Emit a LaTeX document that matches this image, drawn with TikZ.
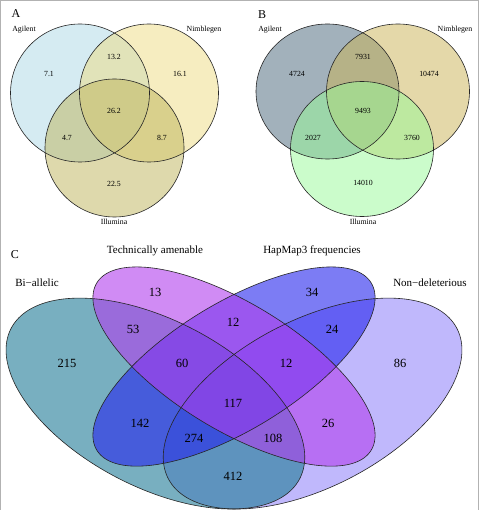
\documentclass[tikz,border=0pt]{standalone}
\usepackage{fontspec}
\setmainfont{Liberation Serif}
\definecolor{aAg}{RGB}{173,216,230}
\definecolor{aNi}{RGB}{238,221,130}
\definecolor{aIl}{RGB}{190,180,90}
\definecolor{bAg}{RGB}{70,100,120}
\definecolor{bNi}{RGB}{203,179,85}
\definecolor{bIl}{RGB}{152,251,152}
\definecolor{cBi}{RGB}{30,123,150}
\definecolor{cTe}{RGB}{177,63,237}
\definecolor{cHa}{RGB}{37,37,237}
\definecolor{cNo}{RGB}{150,137,250}
\newcommand{\quadell}[6]{%
  \path[#6] plot[domain=0:360, samples=181, variable=\t]
   ({#1+#3*cos(\t)*cos(#5)-#4*sin(\t)*sin(#5)},
    {#2+#3*cos(\t)*sin(#5)+#4*sin(\t)*cos(#5)}) -- cycle;}
\begin{document}
\begin{tikzpicture}[x=1pt,y=-1pt,
  lab/.style={font=\fontsize{7.8}{9}\selectfont, inner sep=0pt},
  clab/.style={font=\fontsize{11}{13}\selectfont, inner sep=0pt},
  cnum/.style={font=\fontsize{12.5}{14}\selectfont, inner sep=0pt},
  plet/.style={font=\fontsize{12}{14}\selectfont, inner sep=0pt},
  vline/.style={draw=black!85, line width=0.6pt},
  frame/.style={draw=gray!60, line width=1pt}]
\useasboundingbox (0,0) rectangle (480,510);
\fill[white] (0,0) rectangle (480,510);
\draw[frame] (0.5,512) -- (0.5,1) -- (478,1) -- (478,512);

% ---------- Panel A ----------
\fill[aAg, fill opacity=0.5] (80,93) ellipse [x radius=69.5pt, y radius=69pt];
\fill[aNi, fill opacity=0.5] (149,93) ellipse [x radius=69.5pt, y radius=69pt];
\fill[aIl, fill opacity=0.5] (114.5,148) ellipse [x radius=69.5pt, y radius=69pt];
\draw[vline] (80,93) ellipse [x radius=69.5pt, y radius=69pt];
\draw[vline] (149,93) ellipse [x radius=69.5pt, y radius=69pt];
\draw[vline] (114.5,148) ellipse [x radius=69.5pt, y radius=69pt];
\node[plet] (pA) at (16,14) {A};
\node[lab] (aAgl) at (24,30) {Agilent};
\node[lab] (aNil) at (204,30) {Nimblegen};
\node[lab] (aIll) at (114,222) {Illumina};
\node[lab] (a1) at (49,74) {7.1};
\node[lab] (a2) at (114,57) {13.2};
\node[lab] (a3) at (180,74) {16.1};
\node[lab] (a4) at (114,111) {26.2};
\node[lab] (a5) at (67,138) {4.7};
\node[lab] (a6) at (162,138) {8.7};
\node[lab] (a7) at (114,184) {22.5};

% ---------- Panel B ----------
\fill[bAg, fill opacity=0.5] (327.5,91.5) ellipse [x radius=71.5pt, y radius=67.5pt];
\fill[bNi, fill opacity=0.5] (398,91.5) ellipse [x radius=71.5pt, y radius=67.5pt];
\fill[bIl, fill opacity=0.5] (362,149) ellipse [x radius=71.5pt, y radius=67.5pt];
\draw[vline] (327.5,91.5) ellipse [x radius=71.5pt, y radius=67.5pt];
\draw[vline] (398,91.5) ellipse [x radius=71.5pt, y radius=67.5pt];
\draw[vline] (362,149) ellipse [x radius=71.5pt, y radius=67.5pt];
\node[plet] (pB) at (262,15) {B};
\node[lab] (bAgl) at (270,30) {Agilent};
\node[lab] (bNil) at (455,30) {Nimblegen};
\node[lab] (bIll) at (363,222) {Illumina};
\node[lab] (b1) at (297,74) {4724};
\node[lab] (b2) at (363,57) {7931};
\node[lab] (b3) at (429,74) {10474};
\node[lab] (b4) at (363,111) {9493};
\node[lab] (b5) at (313,138) {2027};
\node[lab] (b6) at (412,138) {3760};
\node[lab] (b7) at (363,183) {14010};

% ---------- Panel C ----------
\begin{scope}[shift={(-28,577.45)}, x=524pt, y=370pt]
  \quadell{0.65}{0.47}{0.35}{0.20}{45}{fill=cNo, fill opacity=0.6}
  \quadell{0.35}{0.47}{0.35}{0.20}{135}{fill=cBi, fill opacity=0.6}
  \quadell{0.50}{0.57}{0.35}{0.15}{45}{fill=cHa, fill opacity=0.6}
  \quadell{0.50}{0.57}{0.35}{0.15}{135}{fill=cTe, fill opacity=0.6}
  \quadell{0.65}{0.47}{0.35}{0.20}{45}{vline}
  \quadell{0.35}{0.47}{0.35}{0.20}{135}{vline}
  \quadell{0.50}{0.57}{0.35}{0.15}{45}{vline}
  \quadell{0.50}{0.57}{0.35}{0.15}{135}{vline}
\end{scope}
\node[plet] (pC) at (15,255) {C};
\node[clab] (cTel) at (155,251) {Technically amenable};
\node[clab] (cHal) at (312,251) {HapMap3 frequencies};
\node[clab] (cBil) at (37,283) {Bi−allelic};
\node[clab] (cNol) at (430,283) {Non−deleterious};
\node[cnum] (c13) at (155,292) {13};
\node[cnum] (c34) at (312,292) {34};
\node[cnum] (c53) at (133,329) {53};
\node[cnum] (c12a) at (233,322) {12};
\node[cnum] (c24) at (332,329) {24};
\node[cnum] (c215) at (67,363) {215};
\node[cnum] (c60) at (182,363) {60};
\node[cnum] (c12b) at (286,363) {12};
\node[cnum] (c86) at (400,363) {86};
\node[cnum] (c117) at (233,403) {117};
\node[cnum] (c142) at (140,423) {142};
\node[cnum] (c26) at (328,423) {26};
\node[cnum] (c274) at (194,438) {274};
\node[cnum] (c108) at (273,438) {108};
\node[cnum] (c412) at (233,476) {412};
\end{tikzpicture}
\end{document}
